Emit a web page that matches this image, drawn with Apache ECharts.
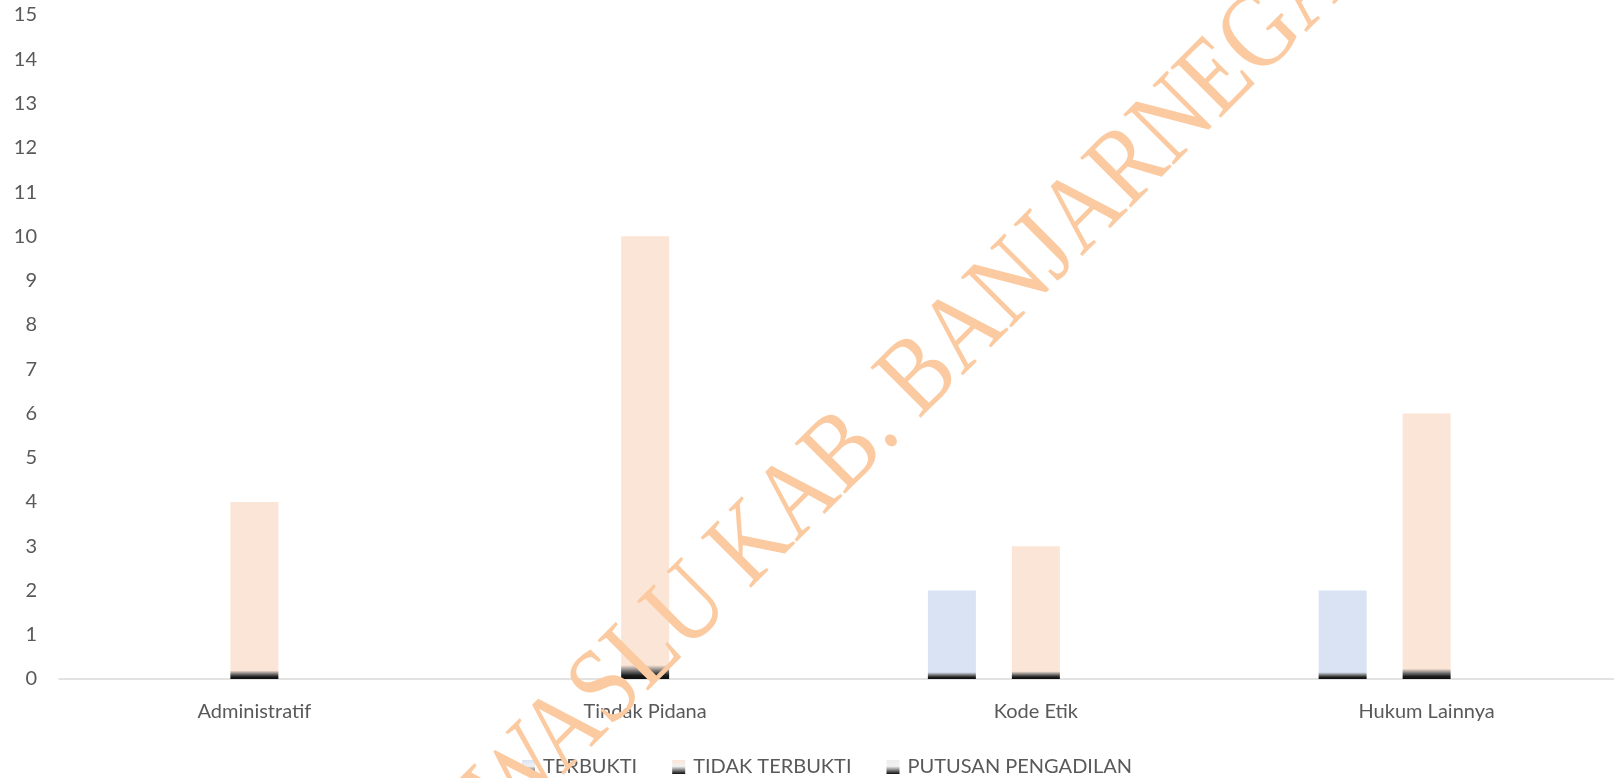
<!DOCTYPE html>
<html>
<head>
<meta charset="utf-8">
<script src="https://cdn.jsdelivr.net/npm/echarts@6/dist/echarts.min.js"></script>
<style>
  html, body { margin: 0; padding: 0; background: #fff; }
  #chart { width: 1614px; height: 778px; }
</style>
</head>
<body>
<div id="chart"></div>
<script>
const categories = ['Administratif', 'Tindak Pidana', 'Kode Etik', 'Hukum Lainnya']
const seriesNames = ['TERBUKTI', 'TIDAK TERBUKTI', 'PUTUSAN PENGADILAN']
const terbukti = [0, 0, 2, 2]
const tidakTerbukti = [4, 10, 3, 6]
const putusanPengadilan = [0, 0, 0, 0]
const yTicks = { min: 0, max: 15, interval: 1 }
const watermark = 'BAWASLU KAB. BANJARNEGARA'

const pxPerUnit = 44.2
const labelFont = 'Lato'

// Excel-style gradient: flat colour with a dark band at the base
function baseGradient(light, value) {
  const h = Math.max(value * pxPerUnit, 1)
  const f = Math.min((5 + 0.02 * h) / h, 0.9)
  return new echarts.graphic.LinearGradient(0, 0, 0, 1, [
    { offset: 0, color: light },
    { offset: 1 - f, color: light },
    { offset: 1 - f * 0.55, color: '#6a6a6a' },
    { offset: 1 - f * 0.25, color: '#1c1c1c' },
    { offset: 1, color: '#0d0d0d' },
  ])
}

function legendGradient(light) {
  return new echarts.graphic.LinearGradient(0, 0, 0, 1, [
    { offset: 0, color: light },
    { offset: 0.45, color: '#f2f2f2' },
    { offset: 1, color: '#0d0d0d' },
  ])
}

function buildSeries(name, values, light) {
  return {
    name,
    type: 'bar',
    barWidth: 48,
    barGap: '75%',
    itemStyle: { color: legendGradient(light) },
    data: values.map((v) => ({ value: v, itemStyle: { color: baseGradient(light, v) } })),
  }
}

const chart = echarts.init(document.getElementById('chart'))

chart.setOption({
  animation: false,
  textStyle: { fontFamily: labelFont },
  grid: { left: 59, width: 1563, top: 15, bottom: 99, outerBoundsMode: 'none' },
  legend: {
    left: 522,
    top: 757,
    padding: 0,
    itemWidth: 13,
    itemHeight: 14,
    itemGap: 35,
    icon: 'rect',
    textStyle: { fontSize: 20, color: '#595959', fontFamily: labelFont, padding: [0, 0, 0, 3] },
    data: seriesNames,
  },
  xAxis: {
    type: 'category',
    data: categories,
    axisLine: { lineStyle: { color: '#d9d9d9', width: 1.5 } },
    axisTick: { show: false },
    axisLabel: { fontSize: 20, color: '#595959', margin: 23 },
  },
  yAxis: {
    type: 'value',
    min: yTicks.min,
    max: yTicks.max,
    interval: yTicks.interval,
    splitLine: { show: false },
    axisLine: { show: false },
    axisLabel: { fontSize: 20, color: '#595959', margin: 22 },
  },
  series: [
    buildSeries(seriesNames[0], terbukti, '#dae3f3'),
    buildSeries(seriesNames[1], tidakTerbukti, '#fbe5d6'),
    buildSeries(seriesNames[2], putusanPengadilan, '#ededed'),
  ],
  graphic: [
    {
      type: 'text',
      x: 913,
      y: 385,
      rotation: Math.PI / 4,
      scaleY: 1.18,
      z: 100,
      silent: true,
      style: {
        text: watermark,
        x: 0,
        y: 0,
        align: 'center',
        verticalAlign: 'middle',
        font: '92px "Liberation Serif"',
        fill: '#fbcaa0',
      },
    },
  ],
})
</script>
</body>
</html>
